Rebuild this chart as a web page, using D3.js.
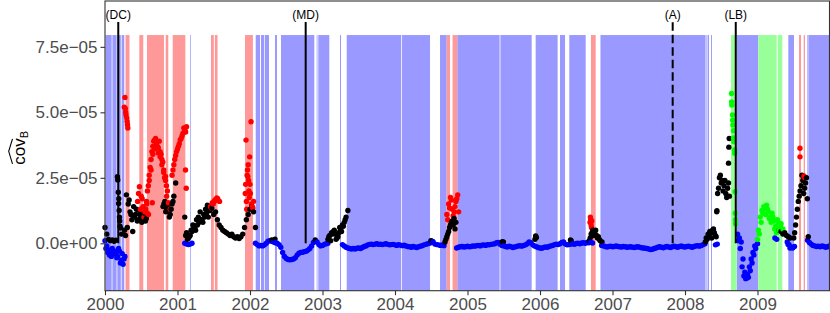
<!DOCTYPE html>
<html>
<head>
<meta charset="utf-8">
<script src="https://cdn.jsdelivr.net/npm/d3@7"></script>
<style>
body { margin: 0; background: #fff; }
svg text { font-family: "Liberation Sans", Arial, sans-serif; }
</style>
</head>
<body>
<svg id="chart" width="830" height="313"></svg>
<script>
// Values are in units of 1e-6, runs are [startYear, values] sampled every STEP years
const STEP = 0.025

const blueRuns = [
    [2000.0, [1, -1, -2.5, -3, -2, -4, -3.5, -5, -3, -6.5, -8, -5]],
    [2000.0125, [-2, -3.5, -4.5, -5, -4, -3, -5.5, -2, -7.5, -4, -6]],
    [2001.1, [0, -0.3, -0.5, -0.3, 0]],
    [2002.075, [0, -0.5, -1, -0.8, -1, -0.6, 0, 0.8, 1, 0.8, 0.5, 0.2, 0, -0.5, -1.5, -3.5, -5, -5.8, -6.2, -6.3, -6.2, -6, -5.5, -4.5, -3.8, -3.5, -3.4, -3.2, -3, -2.6, -2, -1, 0.3, 0.8, 0.5, -0.5, -1, -0.8, -0.4, -0.2, 0]],
    [2003.275, [-0.5, -1, -1.5, -1.8, -2,
        -2.2, -2, -2.2, -1.9, -1.8, -2, -1.6, -1.2, -1,
        -0.6, -0.4, -0.3, -0.5, -0.3, -0.2, -0.4, -0.3, -0.5, -0.3, -0.2, -0.4, -0.6, -0.5, -0.4,
        -0.6, -0.8, -0.5, -0.7, -0.9, -0.7, -1, -1.2,
        -1.3, -1.5, -1.2, -1.4, -1.6, -1.3, -1.1, -0.9, -0.6,
        -0.4, -0.2, 0, 0.3, 0.6,
        -0.3, -0.5, -0.6, -0.8, -0.6, -0.9]],
    [2004.85, [-1.8, -1.5, -1.3, -1.2, -1.4, -1.3, -1.1, -1.3, -1.2, -1.0, -1.1,
        -0.9, -0.8, -1.0, -0.7, -0.6, -0.8, -0.5, -0.6, -0.4, -0.3, -0.2, 0.2,
        0.3, -0.4, -0.8, -1.0, -1.2, -1.4, -1.1, -1.3, -1.6, -1.4, -1.2, -1.0, -0.9, -1.1, -0.8, -0.6, -0.2, 0.5,
        0.2, -0.6, -1.0, -1.3, -1.6, -1.8, -1.9, -1.6, -1.4, -1.5, -1.2, -1.0,
        -0.8, -0.5, -0.3, -0.5, -0.2, 0.3, 0.5,
        -0.3, -0.6, -0.5, -0.3, -0.2, -0.4, -0.1, 0, -0.2, 0.1, 0.2, 0, 0.3, 0.2, 0.4, 0.1]],
    [2006.85, [-0.8, -1.0, -1.2, -1.4, -1.2, -1.1, -1.3, -1.2, -1.0, -1.2, -1.3,
        -1.4, -1.2, -1.3, -1.5, -1.4, -1.3, -1.5, -1.6, -1.4, -1.3, -1.5, -1.7, -1.8, -1.9, -2.0, -2.2, -2.4, -2.3,
        -2.0, -1.8, -1.5, -1.3, -1.5, -1.7, -1.4, -1.2, -1.4, -1.6, -1.3, -1.1,
        -1.3, -1.5, -1.2, -1.0, -1.3, -1.4, -1.2, -1.1, -1.3, -1.5, -1.2, -1.0, -0.9, -1.1, -0.8, -0.5, -0.2]],
    [2008.42, [-0.6, -0.3]],
    [2008.725, [3.5, 2, 0.5, -6, -11, -13.3, -13, -10.5, -7.5, -4.5, -2, -0.2]],
    [2008.7375, [1, -2, -9, -12.5, -13.5, -12, -9, -6, -3.5, -1]],
    [2009.24, [2, 1.5]],
    [2009.41, [0.5, -0.5, -1.5, -1.8, -1.2]],
    [2009.4225, [-0.5, -1.8, -1.5]],
    [2009.69, [1.2, 0.3, -0.3, -0.8, -1.0, -1.2, -1.1, -1.3, -1.0, -1.2, -1.5, -1.3, -1.0]]
]

const blackRuns = [
    [2000.0, [6, 3.5, 1.5, 1, 1.3, 0.8, 1.2]],
    [2000.27, [5, 18.5, 15, 12, 9, 14, 11, 8.5, 12.5, 10, 9, 11.5, 9.5]],
    [2000.2825, [3, 6, 16.5, 11, 4.5, 10, 13, 9, 11, 8, 10.5, 8.5]],
    [2000.8, [14, 16, 13, 12, 11, 15, 18, 23]],
    [2000.8125, [15, 12, 14, 10, 13, 16]],
    [2001.1, [10, 4, 2, 3, 4.5, 6, 5, 7, 8, 9, 8, 10, 11.5, 10, 12.5, 13.5, 11, 12, 9, 7,
        6, 5, 4.5, 4, 3.5, 3, 3.5, 2.5, 2, 2.5, 1.8, 2.5, 3.5, 6, 9, 11, 13, 14, 12, 6]],
    [2001.1125, [3, 1.5, 2.5, 5, 7, 6, 9, 10, 12, 9, 11, 13, 14.5, 12.5]],
    [2003.075, [1.5, 3, 4, 4.5, 3.5, 2, 4, 5, 7, 8, 10, 12.5]],
    [2003.0875, [2.5, 1, 3.5, 5, 1.5, 2.5, 6, 4.5, 6.5, 9]],
    [2004.69, [0.5, 2.5, 4.5, 7, 8.5, 9.5, 8]],
    [2004.7025, [1.5, 3.5, 6, 8, 7, 5.5]],
    [2006.68, [1, 3.5, 5, 4.5, 3, 2.5, 1, 0.5]],
    [2006.6925, [2, 4, 3, 5, 2, 1.5]],
    [2008.28, [0.5, 1.5, 3, 4, 5, 4, 2.5]],
    [2008.2925, [2, 3.5, 4.5, 2, 5.5, 3]],
    [2008.4375, [12, 21, 26, 24, 22, 19, 21, 18]],
    [2008.45, [19, 25, 23, 20, 24, 17.5, 23]],
    [2009.3, [5, 4.5, 3.5, 4, 3, 2.5, 2]],
    [2009.5, [2, 7, 13, 18, 22, 24, 21, 25, 2.5]],
    [2009.5125, [4, 10, 16, 20, 26, 19, 23, 17]]
]

const blackPts = [
    [2000.171, 25.4], [2000.176, 24.2], [2000.183, 19.5], [2000.19, 17], [2000.188, 15.2],
    [2000.195, 12.5], [2000.2, 10], [2000.203, 8.5], [2000.207, 6.5], [2000.214, 5.8], [2000.228, 3.5],
    [2002.30, 1.3], [2002.345, 1.6], [2002.9, 1.3],
    [2004.495, 1.0], [2004.51, 0.8],
    [2005.48, 0.6], [2005.495, 0.5],
    [2005.93, 1.5], [2005.94, 2.8], [2005.95, 2.2],
    [2006.42, 1.3], [2006.43, 1.0],
    [2008.44, 12.4],
    [2008.60, 30.6], [2008.605, 36.7], [2008.61, 40]
]

const redRuns = [
    [2000.45, [16, 21.6, 18, 14, 12, 15, 11]],
    [2000.4625, [19, 13, 17, 10, 13]],
    [2000.56, [12, 20, 26, 32, 37, 39.5, 38, 36.5, 35, 32, 28, 24, 20]],
    [2000.5725, [16, 22, 29, 35, 39, 40, 37, 39, 34, 31, 25, 22]],
    [2000.585, [11.5, 24, 28, 34, 36, 37.5, 34.5, 33, 30, 27, 25.5]],
    [2000.85, [18, 15.5, 13]],
    [2000.925, [26, 30, 33.5, 36, 38, 40, 42, 43.5, 44.5]],
    [2000.9375, [28, 32, 35, 37, 39.5, 41, 44, 42.5]],
    [2001.455, [14, 15.5, 16, 16.5, 17, 16]],
    [2001.4675, [13.5, 15, 16.5, 17.3]],
    [2004.715, [11, 15, 17.5, 13, 12, 16, 18.5]],
    [2004.7275, [9, 13.5, 16.5, 10.5, 14, 17, 12]]
]

const redPts = [
    [2000.265, 52], [2000.275, 55.7], [2000.28, 51.5], [2000.285, 50], [2000.29, 49],
    [2000.3, 47.8], [2000.305, 46.5], [2000.31, 45.3], [2000.315, 44],
    [2000.652, 15.5],
    [2001.11, 28], [2001.12, 21],
    [2001.935, 19], [2001.94, 22.5], [2001.945, 39.4], [2001.95, 16], [2001.955, 13], [2001.96, 26],
    [2001.965, 28], [2001.97, 25.5], [2001.975, 30], [2001.98, 24], [2001.985, 20], [2001.99, 17.5],
    [2001.995, 33], [2002.0, 22.5], [2002.005, 19], [2002.014, 46.4], [2002.02, 15], [2002.03, 14],
    [2002.04, 13.5], [2002.05, 16],
    [2006.69, 8], [2006.695, 10], [2006.7, 9], [2006.705, 7], [2006.71, 6], [2006.715, 8.5],
    [2009.586, 36.3], [2009.586, 33], [2009.64, 25.7], [2009.655, 25]
]

const greenRuns = [
    [2009.0, [1.5, 3.5, 8, 11.5, 13.5, 14.5, 12, 10, 11.5, 8.5, 6.5, 9, 5, 7.5, 5.5]],
    [2009.0125, [5, 10, 12.5, 14, 11, 13, 9.5, 8, 10, 5.5, 4, 8, 6]]
]

const greenPts = [
    [2008.641, 57.2], [2008.643, 54], [2008.645, 52.8], [2008.655, 49], [2008.657, 47],
    [2008.66, 45.2], [2008.668, 43], [2008.67, 40.2], [2008.672, 38.8], [2008.683, 35.6],
    [2008.685, 34.4], [2008.69, 19.7], [2008.692, 11.5], [2008.695, 9], [2008.697, 7.5]
]

// Regime shading [startYear, endYear]
const blueBands = [
    [2000.007, 2000.092], [2000.102, 2000.160], [2000.170, 2000.218], [2000.229, 2000.266],
    [2001.172, 2001.182],
    [2002.079, 2002.138], [2002.152, 2002.197], [2002.207, 2002.262], [2002.345, 2002.372],
    [2002.428, 2002.887], [2002.920, 2002.931], [2002.942, 2003.094], [2003.241, 2003.255],
    [2003.334, 2004.086], [2004.097, 2004.483], [2004.621, 2004.713],
    [2004.859, 2005.443], [2005.454, 2005.885], [2005.940, 2006.243], [2006.276, 2006.345], [2006.404, 2006.630],
    [2006.834, 2008.284], [2008.295, 2008.310], [2008.317, 2008.331], [2008.359, 2008.372],
    [2008.713, 2009.011], [2009.425, 2009.503], [2009.683, 2009.692], [2009.701, 2009.993]
]
const redBands = [
    [2000.283, 2000.338], [2000.473, 2000.528], [2000.579, 2000.814], [2000.837, 2000.873], [2000.934, 2001.108],
    [2001.462, 2001.501], [2001.515, 2001.552], [2001.931, 2002.040],
    [2004.713, 2004.759], [2004.794, 2004.859], [2006.703, 2006.768],
    [2009.572, 2009.600], [2009.637, 2009.655]
]
const greenBands = [[2008.634, 2008.713], [2009.011, 2009.265], [2009.279, 2009.342]]

// Events
const eventYears = [2000.183, 2002.768, 2007.83, 2008.7]
const eventLabels = ['(DC)', '(MD)', '(A)', '(LB)']
const eventDashed = [false, false, true, false]

// Axes
const xTicks = [2000, 2001, 2002, 2003, 2004, 2005, 2006, 2007, 2008, 2009]
const yTicks = [0, 2.5e-5, 5e-5, 7.5e-5]
const yTickLabels = ['0.0e+00', '2.5e\u221205', '5.0e\u221205', '7.5e\u221205']

// Layout
const panel = {left: 105, right: 829.5, top: 1, bottom: 290.7}
const bandTop = 7.95e-5
const eventTop = 8.45e-5
const labelLevel = 8.55e-5

const svg = d3.select('#chart')

const xScale = d3.scaleLinear().domain([2000, 2009.993]).range([panel.left, panel.right])
const yScale = d3.scaleLinear().domain([-1.81e-5, 9.25e-5]).range([panel.bottom, panel.top])

function expandRuns(runs, color){
    return runs.flatMap(([start, vals]) => vals.map((v, i) => ({t: start + i*STEP, v: v*1e-6, color})))
}
function expandPts(pts, color){
    return pts.map(([t, v]) => ({t, v: v*1e-6, color}))
}

const points = [
    ...expandRuns(blueRuns, '#0000FF'),
    ...expandRuns(blackRuns, '#000000'), ...expandPts(blackPts, '#000000'),
    ...expandRuns(redRuns, '#FF0000'), ...expandPts(redPts, '#FF0000'),
    ...expandRuns(greenRuns, '#00FF00'), ...expandPts(greenPts, '#00FF00')
].sort((a, b) => a.t - b.t)

// Bands
const bands = [
    ...blueBands.map(b => ({b, fill: '#9999FF'})),
    ...redBands.map(b => ({b, fill: '#FF9999'})),
    ...greenBands.map(b => ({b, fill: '#99FF99'}))
]
svg.append('g').selectAll('rect')
    .data(bands)
    .enter()
    .append('rect')
    .attr('x', d => xScale(d.b[0]))
    .attr('width', d => Math.max(0.6, xScale(d.b[1]) - xScale(d.b[0])))
    .attr('y', yScale(bandTop))
    .attr('height', yScale.range()[0] - yScale(bandTop))
    .style('fill', d => d.fill)

// Points
svg.append('g').selectAll('circle')
    .data(points)
    .enter()
    .append('circle')
    .attr('cx', d => xScale(d.t))
    .attr('cy', d => yScale(d.v))
    .attr('r', 2.7)
    .style('fill', d => d.color)

// Event lines and labels
const ev = svg.append('g')
ev.selectAll('line')
    .data(eventYears)
    .enter()
    .append('line')
    .attr('x1', d => xScale(d)).attr('x2', d => xScale(d))
    .attr('y1', yScale(0)).attr('y2', yScale(eventTop))
    .style('stroke', '#000')
    .style('stroke-width', 2)
    .style('stroke-dasharray', (_, i) => eventDashed[i] ? '8.5,4' : null)
ev.selectAll('text')
    .data(eventYears)
    .enter()
    .append('text')
    .attr('x', d => xScale(d))
    .attr('y', yScale(labelLevel))
    .attr('text-anchor', 'middle')
    .style('font-size', '12px')
    .style('fill', '#000')
    .text((_, i) => eventLabels[i])

// Axes
const xAxis = d3.axisBottom(xScale)
    .tickValues(xTicks)
    .tickFormat(d3.format('d'))
    .tickSize(4.5)
    .tickPadding(3)
const yAxis = d3.axisLeft(yScale)
    .tickValues(yTicks)
    .tickFormat((_, i) => yTickLabels[i])
    .tickSize(4.5)
    .tickPadding(3)

const gx = svg.append('g').attr('transform', 'translate(0,' + panel.bottom + ')').call(xAxis)
const gy = svg.append('g').attr('transform', 'translate(' + panel.left + ',0)').call(yAxis)
;[gx, gy].forEach(g => {
    g.select('.domain').remove()
    g.selectAll('.tick line').style('stroke', '#333').style('stroke-width', 1.1)
    g.selectAll('.tick text').style('fill', '#4D4D4D').style('font-size', '17px')
        .style('font-family', '"Liberation Sans", Arial, sans-serif')
})

// Panel border
svg.append('rect')
    .attr('x', panel.left).attr('y', panel.top)
    .attr('width', panel.right - panel.left).attr('height', panel.bottom - panel.top)
    .style('fill', 'none').style('stroke', '#333').style('stroke-width', 1.1)

// Y title: hat(cov)_B
const title = svg.append('g')
    .attr('transform', 'translate(24.5,' + ((panel.top + panel.bottom)/2 + 2) + ') rotate(-90)')
const tt = title.append('text')
    .attr('text-anchor', 'middle')
    .style('font-size', '17px')
    .style('fill', '#000')
tt.append('tspan').text('cov')
tt.append('tspan').attr('dy', 3).style('font-size', '11px').text('B')
title.append('path')
    .attr('d', 'M-16,-12 L-3.5,-15.8 L9,-12')
    .style('fill', 'none').style('stroke', '#000').style('stroke-width', 1.1)
</script>
</body>
</html>
